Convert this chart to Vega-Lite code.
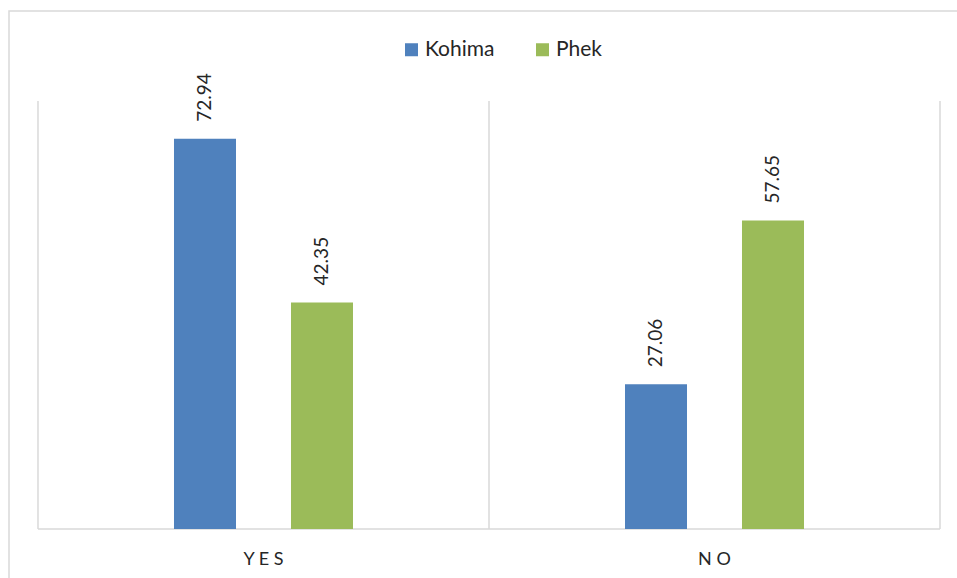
{
  "$schema": "https://vega.github.io/schema/vega-lite/v6.json",
  "width": 949,
  "height": 580,
  "autosize": {"type": "none"},
  "padding": {"left": 9, "top": 11, "right": 0, "bottom": 0},
  "background": "white",
  "config": {
    "font": "Lato",
    "view": {"stroke": "#d9d9d9", "strokeWidth": 1.5}
  },
  "datasets": {
    "shares": [
      {"response": "YES", "district": "Kohima", "percent": 72.94},
      {"response": "YES", "district": "Phek", "percent": 42.35},
      {"response": "NO", "district": "Kohima", "percent": 27.06},
      {"response": "NO", "district": "Phek", "percent": 57.65}
    ],
    "bands": [
      {"response": "YES"},
      {"response": "NO"}
    ],
    "lastBand": [
      {"response": "NO"}
    ]
  },
  "layer": [
    {
      "description": "category separators at the start of each band",
      "data": {"name": "bands"},
      "mark": {"type": "rule", "color": "#d9d9d9", "strokeWidth": 1.5},
      "encoding": {
        "x": {
          "field": "response", "type": "nominal", "bandPosition": 0,
          "sort": ["YES", "NO"],
          "scale": {"domain": ["YES", "NO"], "paddingInner": 0, "paddingOuter": 0.0521, "align": 0.617},
          "axis": {
            "orient": "bottom", "offset": -62, "domain": false, "ticks": false, "grid": false,
            "title": null, "labelAngle": 0, "labelFontSize": 18, "labelColor": "#262626",
            "labelBaseline": "alphabetic", "labelPadding": 35,
            "labelExpr": "join(split(datum.label, ''), ' ')"
          }
        },
        "y": {
          "datum": 0, "type": "quantitative",
          "scale": {"domain": [-11.59, 96.82], "nice": false, "zero": false},
          "axis": null
        },
        "y2": {"datum": 80}
      }
    },
    {
      "description": "closing separator at the end of the last band",
      "data": {"name": "lastBand"},
      "mark": {"type": "rule", "color": "#d9d9d9", "strokeWidth": 1.5},
      "encoding": {
        "x": {"field": "response", "type": "nominal", "bandPosition": 1, "sort": ["YES", "NO"]},
        "y": {"datum": 0, "type": "quantitative"},
        "y2": {"datum": 80}
      }
    },
    {
      "description": "category baseline drawn as a zero-height stroked band",
      "data": {"name": "bands"},
      "mark": {"type": "bar", "fill": null, "stroke": "#d9d9d9", "strokeWidth": 1.5},
      "encoding": {
        "x": {"field": "response", "type": "nominal", "sort": ["YES", "NO"]},
        "y": {"datum": 0, "type": "quantitative"},
        "y2": {"datum": 0}
      }
    },
    {
      "data": {"name": "shares"},
      "mark": {"type": "bar"},
      "encoding": {
        "x": {"field": "response", "type": "nominal", "sort": ["YES", "NO"]},
        "xOffset": {
          "field": "district", "type": "nominal",
          "scale": {"domain": ["Kohima", "Phek"], "range": [136, 315], "paddingInner": 0.47, "paddingOuter": 0}
        },
        "y": {"field": "percent", "type": "quantitative"},
        "y2": {"datum": 0},
        "color": {
          "field": "district", "type": "nominal",
          "scale": {"domain": ["Kohima", "Phek"], "range": ["#4F81BD", "#9BBB59"]},
          "legend": {
            "title": null, "orient": "none", "direction": "horizontal",
            "legendX": 392, "legendY": 28, "padding": 0,
            "symbolType": "square", "symbolSize": 169, "symbolStrokeWidth": 0,
            "labelFontSize": 21, "labelColor": "#262626", "labelOffset": 3,
            "columnPadding": 37
          }
        }
      }
    },
    {
      "data": {"name": "shares"},
      "mark": {
        "type": "text", "angle": 270, "align": "left", "baseline": "middle",
        "dx": 17, "fontSize": 19, "color": "#262626"
      },
      "encoding": {
        "x": {"field": "response", "type": "nominal", "sort": ["YES", "NO"]},
        "xOffset": {"field": "district", "type": "nominal"},
        "y": {"field": "percent", "type": "quantitative"},
        "text": {"field": "percent", "type": "quantitative", "format": ".2f"}
      }
    }
  ]
}
